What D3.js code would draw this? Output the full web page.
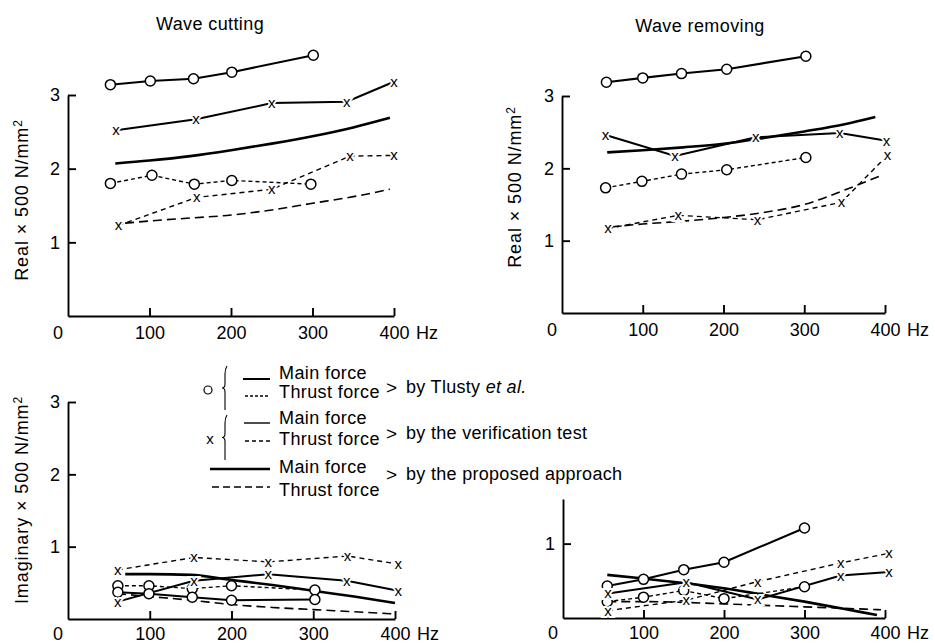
<!DOCTYPE html>
<html>
<head>
<meta charset="utf-8">
<script src="https://cdn.jsdelivr.net/npm/d3@7"></script>
<style>
  body { margin: 0; background: #fff; }
  text { font-family: "Liberation Sans", Arial, sans-serif; fill: #000; }
</style>
</head>
<body>
<svg width="935" height="643"></svg>
<script>
const svg = d3.select("svg");

// Frequency (Hz) and value pairs, one array per series

// Wave cutting, real part
const cutRealTlustyMain = [[52, 3.14], [101, 3.19], [154, 3.22], [201, 3.31], [301, 3.54]];
const cutRealTlustyThrust = [[52, 1.80], [103, 1.91], [155, 1.79], [201, 1.84], [298, 1.79]];
const cutRealVerifMain = [[59, 2.52], [157, 2.67], [250, 2.89], [342, 2.91], [400, 3.18]];
const cutRealVerifThrust = [[62, 1.23], [158, 1.61], [250, 1.72], [346, 2.17], [400, 2.18]];
const cutRealPropMain = [[58, 2.07], [100, 2.11], [150, 2.17], [200, 2.25], [250, 2.34], [300, 2.44], [350, 2.56], [395, 2.69]];
const cutRealPropThrust = [[70, 1.26], [100, 1.29], [150, 1.33], [200, 1.37], [250, 1.44], [300, 1.53], [350, 1.62], [395, 1.72]];

// Wave removing, real part
const remRealTlustyMain = [[55, 3.19], [100, 3.25], [148, 3.31], [204, 3.37], [302, 3.55]];
const remRealTlustyThrust = [[54, 1.73], [99, 1.82], [148, 1.92], [204, 1.98], [302, 2.15]];
const remRealVerifMain = [[54, 2.46], [140, 2.17], [240, 2.43], [344, 2.49], [402, 2.38]];
const remRealVerifThrust = [[57, 1.17], [144, 1.35], [242, 1.29], [346, 1.53], [403, 2.18]];
const remRealPropMain = [[56, 2.22], [100, 2.25], [150, 2.29], [200, 2.34], [250, 2.42], [300, 2.51], [350, 2.61], [388, 2.71]];
const remRealPropThrust = [[60, 1.19], [100, 1.23], [150, 1.27], [200, 1.32], [250, 1.39], [300, 1.50], [350, 1.70], [395, 1.90]];

// Wave cutting, imaginary part
const cutImagTlustyMain = [[61, 0.37], [99, 0.35], [152, 0.30], [200, 0.26], [302, 0.27]];
const cutImagTlustyThrust = [[61, 0.46], [99, 0.46], [152, 0.42], [200, 0.46], [302, 0.40]];
const cutImagVerifMain = [[61, 0.24], [154, 0.53], [245, 0.62], [341, 0.53], [404, 0.39]];
const cutImagVerifThrust = [[61, 0.68], [154, 0.85], [245, 0.79], [342, 0.87], [404, 0.76]];
const cutImagPropMain = [[70, 0.62], [100, 0.62], [150, 0.61], [200, 0.54], [250, 0.47], [300, 0.39], [350, 0.31], [400, 0.22]];
const cutImagPropThrust = [[60, 0.35], [100, 0.31], [150, 0.26], [200, 0.20], [250, 0.16], [300, 0.13], [350, 0.10], [400, 0.07]];

// Wave removing, imaginary part
const remImagTlustyMain = [[55, 0.43], [100, 0.52], [150, 0.65], [200, 0.75], [300, 1.21]];
const remImagTlustyThrust = [[55, 0.22], [100, 0.28], [150, 0.37], [200, 0.26], [300, 0.42]];
const remImagVerifMain = [[56, 0.33], [153, 0.48], [242, 0.25], [345, 0.57], [405, 0.62]];
const remImagVerifThrust = [[56, 0.10], [153, 0.24], [242, 0.49], [345, 0.74], [405, 0.87]];
const remImagPropMain = [[55, 0.58], [100, 0.53], [150, 0.47], [200, 0.40], [250, 0.31], [300, 0.22], [350, 0.12], [390, 0.04]];
const remImagPropThrust = [[55, 0.22], [100, 0.22], [150, 0.21], [200, 0.19], [250, 0.17], [300, 0.15], [350, 0.13], [395, 0.11]];

// Axis ticks and texts
const xTicks = [100, 200, 300, 400];
const titles = ["Wave cutting", "Wave removing"];
const yLabelReal = "Real \u00d7 500 N/mm";
const yLabelImag = "Imaginary \u00d7 500 N/mm";
const legendForces = ["Main force", "Thrust force"];
const legendSources = ["by the verification test", "by the proposed approach"];

// Line styles per series kind
const styles = {
  tm: { width: 2.1, dash: null, marker: "o", curve: d3.curveLinear },
  tt: { width: 1.4, dash: "4,3", marker: "o", curve: d3.curveLinear },
  vm: { width: 2.0, dash: null, marker: "x", curve: d3.curveLinear },
  vt: { width: 1.4, dash: "5,4", marker: "x", curve: d3.curveLinear },
  pm: { width: 2.6, dash: null, marker: null, curve: d3.curveMonotoneX },
  pt: { width: 1.6, dash: "9,5", marker: null, curve: d3.curveMonotoneX }
};

const panels = [
  { x0: 68, x1: 394, y0: 316, yMax: 3, yTop: 95, yTicks: [1, 2, 3], label: yLabelReal, labelX: 22, labelY: 200,
    title: titles[0], titleX: 210, titleY: 24, labelGap: 10,
    series: { tm: cutRealTlustyMain, tt: cutRealTlustyThrust, vm: cutRealVerifMain, vt: cutRealVerifThrust, pm: cutRealPropMain, pt: cutRealPropThrust } },
  { x0: 562, x1: 885, y0: 313, yMax: 3, yTop: 96, yTicks: [1, 2, 3], label: yLabelReal, labelX: 515, labelY: 187,
    title: titles[1], titleX: 700, titleY: 26, labelGap: 10,
    series: { tm: remRealTlustyMain, tt: remRealTlustyThrust, vm: remRealVerifMain, vt: remRealVerifThrust, pm: remRealPropMain, pt: remRealPropThrust } },
  { x0: 68, x1: 395, y0: 619, yMax: 3, yTop: 402, yTicks: [1, 2, 3], label: yLabelImag, labelX: 22, labelY: 500,
    labelGap: 8,
    series: { tm: cutImagTlustyMain, tt: cutImagTlustyThrust, vm: cutImagVerifMain, vt: cutImagVerifThrust, pm: cutImagPropMain, pt: cutImagPropThrust } },
  { x0: 563, x1: 885, y0: 618, yMax: 1.6, yTop: 499, yTicks: [1], labelGap: 8,
    series: { tm: remImagTlustyMain, tt: remImagTlustyThrust, vm: remImagVerifMain, vt: remImagVerifThrust, pm: remImagPropMain, pt: remImagPropThrust } }
];

panels.forEach(drawPanel);

function drawPanel(p) {
  const x = d3.scaleLinear().domain([0, 400]).range([p.x0, p.x1]);
  const y = d3.scaleLinear().domain([0, p.yMax]).range([p.y0, p.yTop]);
  const g = svg.append("g");

  // axes, ticks pointing inward
  const xAxis = g.append("g")
    .attr("transform", `translate(0,${p.y0})`)
    .call(d3.axisBottom(x).tickValues(xTicks).tickSizeInner(-8).tickSizeOuter(0).tickPadding(p.labelGap));
  const yAxis = g.append("g")
    .attr("transform", `translate(${p.x0},0)`)
    .call(d3.axisLeft(y).tickValues(p.yTicks).tickFormat(d3.format("d")).tickSizeInner(-8).tickSizeOuter(0).tickPadding(8));
  [xAxis, yAxis].forEach(a => {
    a.attr("font-family", null).attr("font-size", null);
    a.selectAll("path, line").attr("stroke", "#000").attr("stroke-width", 1.9);
    a.selectAll("text").style("font-size", "18px");
  });

  g.append("text")
    .attr("x", p.x0 - 10).attr("y", p.y0 + p.labelGap).attr("dy", "0.71em")
    .attr("text-anchor", "middle").style("font-size", "18px").text("0");
  g.append("text")
    .attr("x", x(400) + 22).attr("y", p.y0 + p.labelGap).attr("dy", "0.71em")
    .style("font-size", "18px").text("Hz");

  if (p.title) {
    g.append("text")
      .attr("x", p.titleX).attr("y", p.titleY).attr("dy", "0.35em")
      .attr("text-anchor", "middle").style("font-size", "18px").style("letter-spacing", "0.4px")
      .text(p.title);
  }
  if (p.label) {
    const t = g.append("text")
      .attr("transform", `translate(${p.labelX},${p.labelY}) rotate(-90)`)
      .attr("dy", "0.35em").attr("text-anchor", "middle")
      .style("font-size", "18px").style("letter-spacing", "0.9px")
      .text(p.label);
    t.append("tspan").attr("dy", "-0.5em").style("font-size", "12px").text("2");
  }

  const keys = ["pt", "pm", "tt", "tm", "vt", "vm"];
  keys.forEach(k => {
    const s = styles[k];
    const line = d3.line().x(d => x(d[0])).y(d => y(d[1])).curve(s.curve);
    g.append("path")
      .datum(p.series[k])
      .attr("d", line)
      .attr("fill", "none")
      .attr("stroke", "#000")
      .attr("stroke-width", s.width)
      .attr("stroke-dasharray", s.dash);
  });

  keys.forEach(k => {
    const s = styles[k];
    if (s.marker === "o") {
      g.selectAll(null).data(p.series[k]).join("circle")
        .attr("cx", d => x(d[0])).attr("cy", d => y(d[1])).attr("r", 5)
        .attr("fill", "#fff").attr("stroke", "#000").attr("stroke-width", 1.5);
    } else if (s.marker === "x") {
      g.selectAll(null).data(p.series[k]).join("text")
        .attr("x", d => x(d[0])).attr("y", d => y(d[1])).attr("dy", "0.33em")
        .attr("text-anchor", "middle")
        .style("font-size", "15px")
        .style("paint-order", "stroke")
        .attr("stroke", "#fff").attr("stroke-width", 4)
        .text("x");
    }
  });
}

// Legend
const lg = svg.append("g");
const rowY = [373, 392, 418, 439, 467, 490];
rowY.forEach((ry, i) => {
  lg.append("text").attr("x", 279).attr("y", ry).attr("dy", "0.35em")
    .style("font-size", "18px").style("letter-spacing", "0.4px")
    .text(legendForces[i % 2]);
});

const sample = [
  { x1: 243, y: 379, w: 2.0, dash: null },
  { x1: 245, y: 396, w: 1.3, dash: "3,2" },
  { x1: 244, y: 423, w: 1.4, dash: null },
  { x1: 245, y: 441, w: 1.3, dash: "4,3" },
  { x1: 210, y: 469, w: 2.6, dash: null },
  { x1: 212, y: 487, w: 1.5, dash: "7,4" }
];
sample.forEach(s => {
  lg.append("line").attr("x1", s.x1).attr("x2", 270).attr("y1", s.y).attr("y2", s.y)
    .attr("stroke", "#000").attr("stroke-width", s.w).attr("stroke-dasharray", s.dash);
});

// braces
[[366, 410], [415, 460]].forEach(([a, b]) => {
  const m = (a + b) / 2;
  lg.append("path")
    .attr("d", `M227,${a} Q225,${a + 3} 225,${a + 8} L225,${m - 4} Q225,${m} 222,${m} Q225,${m} 225,${m + 4} L225,${b}`)
    .attr("fill", "none").attr("stroke", "#000").attr("stroke-width", 1.1);
});
lg.append("circle").attr("cx", 208).attr("cy", 390).attr("r", 4)
  .attr("fill", "none").attr("stroke", "#000").attr("stroke-width", 1.2);
lg.append("text").attr("x", 210).attr("y", 439).attr("dy", "0.33em")
  .attr("text-anchor", "middle").style("font-size", "15px").text("x");

// sources
const srcY = [387, 433, 474];
srcY.forEach(sy => {
  lg.append("text").attr("x", 386).attr("y", sy).attr("dy", "0.35em")
    .style("font-size", "19px").text(">");
});
const t0 = lg.append("text").attr("x", 406).attr("y", srcY[0]).attr("dy", "0.35em")
  .style("font-size", "18px").style("letter-spacing", "0.3px").text("by Tlusty ");
t0.append("tspan").style("font-style", "italic").text("et al.");
legendSources.forEach((s, i) => {
  lg.append("text").attr("x", 406).attr("y", srcY[i + 1]).attr("dy", "0.35em")
    .style("font-size", "18px").style("letter-spacing", "0.3px").text(s);
});
</script>
</body>
</html>
